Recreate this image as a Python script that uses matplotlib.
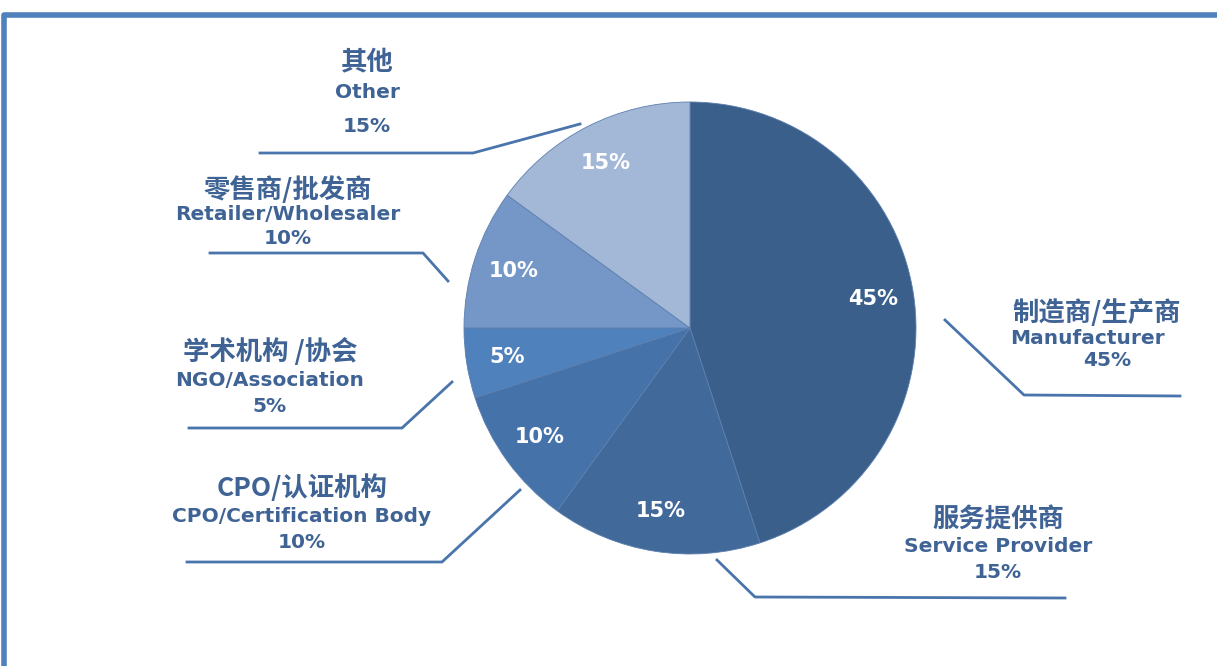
import matplotlib.pyplot as plt

plt.rcParams['font.family'] = ['Noto Sans CJK SC', 'DejaVu Sans']

categories_cn = ["制造商/生产商", "服务提供商", "CPO/认证机构", "学术机构 /协会", "零售商/批发商", "其他"]
categories_en = ["Manufacturer", "Service Provider", "CPO/Certification Body",
                 "NGO/Association", "Retailer/Wholesaler", "Other"]
shares = [45, 15, 10, 5, 10, 15]
colors = ["#3A5F8A", "#416A9B", "#4672AA", "#4F81BD", "#7597C8", "#A3B7D7"]

text_col = "#3F6395"
line_col = "#4A74AC"
latin = ['DejaVu Sans', 'Noto Sans CJK SC']

W, H = 1217, 666
fig = plt.figure(figsize=(W / 100, H / 100), dpi=100)
ax = fig.add_axes([0, 0, 1, 1])

# outer frame (only top and left edges visible)
ax.plot([4, 4, W + 5], [-5, H - 15, H - 15], color="#4F81BD", lw=4, solid_capstyle='butt')

cx, cy, r = 690, H - 328, 226
wedges, _, autotexts = ax.pie(shares, colors=colors, startangle=90, counterclock=False,
                              center=(cx, cy), radius=r, autopct='%d%%', pctdistance=0.82,
                              wedgeprops=dict(linewidth=0.6, edgecolor="#5C7FAE"),
                              frame=True)
ax.set_xlim(0, W)
ax.set_ylim(0, H)
ax.set_aspect('equal')
ax.axis('off')
for t in autotexts:
    t.set_color('white')
    t.set_fontsize(15)
    t.set_fontweight('bold')
    t.set_family(latin)

# label positions (pixel coords, y from top): cn, en, pct
label_pos = [
    (1097, 313, 1087, 338, 1107, 360),
    (998, 519, 998, 546, 998, 573),
    (302, 488, 302, 516, 302, 543),
    (270, 352, 270, 380, 270, 407),
    (288, 190, 288, 215, 288, 239),
    (367, 62, 367, 92, 367, 126),
]
leaders = [
    [(945, 320), (1024, 395), (1180, 396)],
    [(717, 560), (755, 597), (1065, 598)],
    [(520, 490), (442, 562), (187, 562)],
    [(452, 382), (402, 428), (189, 428)],
    [(448, 281), (423, 253), (210, 253)],
    [(580, 124), (473, 153), (260, 153)],
]

for i in range(len(shares)):
    x1, y1, x2, y2, x3, y3 = label_pos[i]
    ax.text(x1, H - y1, categories_cn[i], ha='center', va='center', fontsize=19,
            fontweight='bold', color=text_col)
    ax.text(x2, H - y2, categories_en[i], ha='center', va='center', fontsize=14.5,
            fontweight='bold', color=text_col, family=latin)
    ax.text(x3, H - y3, f"{shares[i]}%", ha='center', va='center', fontsize=14.5,
            fontweight='bold', color=text_col, family=latin)
    xs = [p[0] for p in leaders[i]]
    ys = [H - p[1] for p in leaders[i]]
    ax.plot(xs, ys, color=line_col, lw=2)

fig.savefig("out.png", dpi=100)
